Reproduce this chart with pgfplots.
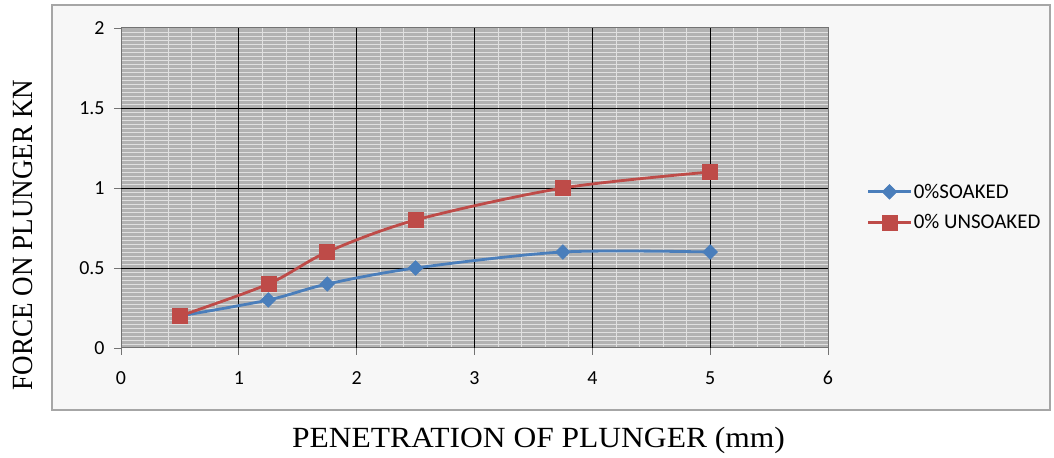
\documentclass[border=0pt]{standalone}
\usepackage{pgfplots}
\pgfplotsset{compat=1.18}
\usepackage{fontspec}
\usepackage{graphicx}
\setmainfont{Liberation Serif}
\newfontfamily\tickfont{Carlito}
\definecolor{sblue}{HTML}{4A7EBB}
\definecolor{ured}{HTML}{BE4B48}
\definecolor{plotgray}{HTML}{B2B2B2}
\definecolor{framebg}{HTML}{F7F7F7}
\begin{document}
\begin{tikzpicture}[x=1bp,y=1bp]
\path (0,0) rectangle (1054,457);
\draw[draw=black!35, fill=framebg, line width=1.2bp] (52,47) rectangle (1050,452);
\begin{axis}[
  at={(121bp,109bp)}, anchor=south west,
  scale only axis, width=707bp, height=320bp,
  xmin=0, xmax=6, ymin=0, ymax=2,
  xtick={0,1,...,6}, ytick={0,0.5,1,1.5,2},
  yticklabels={0,0.5,1,1.5,2},
  minor x tick num=4, minor y tick num=19,
  grid=minor,
  minor grid style={white!88!black, line width=0.8bp},
  extra x ticks={1,2,3,4,5}, extra y ticks={0.5,1,1.5},
  extra x tick labels={}, extra y tick labels={},
  extra tick style={grid=major, major grid style={black, line width=0.9bp}, major tick length=0pt},
  axis background/.style={fill=plotgray},
  axis line style={black!55, line width=1bp},
  tick align=outside,
  major tick length=7bp, minor tick length=0pt,
  tick style={black!55, line width=0.8bp},
  xtick pos=bottom, ytick pos=left,
  ticklabel style={font=\tickfont\fontsize{20}{20}\selectfont},
  xticklabel style={yshift=-13bp},
  yticklabel style={xshift=-6bp},
  /pgf/number format/assume math mode=true,
  legend style={draw=none, fill=none, inner sep=0pt, at={(1.055,0.44)}, anchor=west,
    font=\tickfont\fontsize{21}{21}\selectfont, row sep=11bp},
  legend cell align=left,
  legend image code/.code={\draw[mark repeat=2,mark phase=2,#1] plot coordinates {(0bp,0bp) (21bp,0bp) (42bp,0bp)};},
]
\addplot[sblue, line width=2.8bp, smooth, tension=0.5, mark=square*, mark size=5.2bp, mark options={rotate=45, fill=sblue, draw=sblue, line width=0.5bp}]
  coordinates {(0.5,0.2) (1.25,0.3) (1.75,0.4) (2.5,0.5) (3.75,0.6) (5,0.6)};
\addlegendentry{0\%SOAKED}
\addplot[ured, line width=2.8bp, smooth, tension=0.5, mark=square*, mark size=7.5bp, mark options={fill=ured, draw=ured, line width=0.5bp}]
  coordinates {(0.5,0.2) (1.25,0.4) (1.75,0.6) (2.5,0.8) (3.75,1.0) (5,1.1)};
\addlegendentry{0\% UNSOAKED}
\end{axis}
\node[anchor=base] at (538.5,9) {\scalebox{1.13}[1.05]{\fontsize{28}{28}\selectfont PENETRATION OF PLUNGER (mm)}};
\node[rotate=90] at (22.5,222) {\scalebox{0.97}[1.05]{\fontsize{28}{28}\selectfont FORCE ON PLUNGER KN}};
\end{tikzpicture}
\end{document}
